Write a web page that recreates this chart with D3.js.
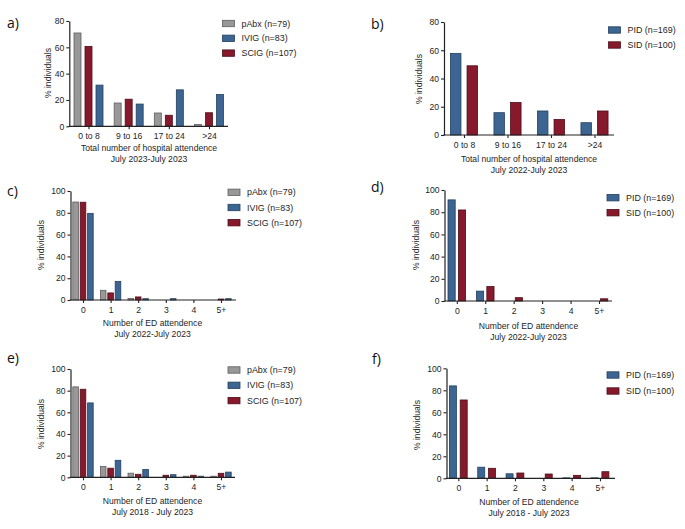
<!DOCTYPE html>
<html><head><meta charset="utf-8">
<script src="https://cdn.jsdelivr.net/npm/d3@7"></script>
<style>
body{margin:0;background:#fff;}
svg{display:block;font-family:"Liberation Sans",Arial,sans-serif;}
</style></head>
<body>
<svg id="chart" width="685" height="529"></svg>
<script>
// ---------- data ----------
const hospitalCats = ["0 to 8", "9 to 16", "17 to 24", ">24"];
const edCats = ["0", "1", "2", "3", "4", "5+"];
const yTicks80 = [0, 20, 40, 60, 80];
const yTicks100 = [0, 20, 40, 60, 80, 100];

// a) hospital attendance by treatment
const aPAbx = [70.9, 17.7, 10.1, 1.3];
const aSCIG = [60.7, 20.6, 8.4, 10.3];
const aIVIG = [31.3, 16.9, 27.7, 24.1];
// b) hospital attendance by diagnosis
const bPID = [57.8, 15.8, 17.0, 8.7];
const bSID = [49.0, 23.0, 11.0, 17.0];
// c) ED attendance 2022-2023 by treatment
const cPAbx = [89.9, 8.9, 1.3, 0, 0, 0];
const cSCIG = [89.7, 6.5, 2.8, 0, 0, 0.9];
const cIVIG = [79.5, 16.9, 1.2, 1.2, 0, 1.2];
// d) ED attendance 2022-2023 by diagnosis
const dPID = [91.1, 8.9, 0, 0, 0, 0];
const dSID = [82, 13, 3, 0, 0, 2];
// e) ED attendance 2018-2023 by treatment
const ePAbx = [83.5, 10.1, 3.8, 0, 1.0, 1.0];
const eSCIG = [81.3, 8.4, 2.8, 1.9, 1.9, 3.7];
const eIVIG = [68.7, 15.7, 7.2, 2.4, 1.0, 4.8];
// f) ED attendance 2018-2023 by diagnosis
const fPID = [84.0, 10.1, 4.1, 0, 0.4, 0.4];
const fSID = [71.2, 9.1, 4.8, 3.9, 2.7, 6.0];

const treatLegend = ["pAbx (n=79)", "IVIG (n=83)", "SCIG (n=107)"];
const diagLegend = ["PID (n=169)", "SID (n=100)"];

const COL = {
  grey: {fill: "#989898", stroke: "#5e5e5e"},
  blue: {fill: "#3c6592", stroke: "#23405f"},
  red:  {fill: "#86192c", stroke: "#4e0e18"}
};

const svg = d3.select("#chart");
const FS = 8.6;
const TXT = "#1e1e1e";

function panel(cfg) {
  const g = svg.append("g");
  const y = d3.scaleLinear().domain([0, cfg.ymax]).range([cfg.yBot, cfg.yTop]);
  const x = d3.scalePoint().domain(cfg.cats).range([cfg.x0, cfg.x1]);

  // bars
  cfg.series.forEach(s => {
    g.append("g").selectAll("rect").data(s.values).join("rect")
      .attr("x", (d, i) => x(cfg.cats[i]) + s.off - cfg.bw / 2)
      .attr("width", cfg.bw)
      .attr("y", d => y(d))
      .attr("height", d => y(0) - y(d))
      .attr("fill", COL[s.col].fill)
      .attr("stroke", COL[s.col].stroke)
      .attr("stroke-width", d => d > 0 ? 0.8 : 0);
  });

  // y axis
  const ya = g.append("g").attr("transform", `translate(${cfg.axX},0)`)
    .call(d3.axisLeft(y).tickValues(cfg.yticks).tickSize(3).tickSizeOuter(0).tickPadding(2));
  ya.select(".domain").attr("stroke", "#222").attr("stroke-width", 1.2);
  ya.selectAll(".tick line").attr("stroke", "#222").attr("stroke-width", 1.1);
  ya.selectAll("text").attr("font-size", FS).attr("fill", TXT).attr("font-family", "Liberation Sans, Arial, sans-serif");

  // x axis
  const xa = g.append("g").attr("transform", `translate(0,${cfg.yBot})`)
    .call(d3.axisBottom(x).tickSize(3).tickSizeOuter(0).tickPadding(4));
  xa.select(".domain").remove();
  xa.selectAll(".tick line").attr("stroke", "#222").attr("stroke-width", 1.1);
  xa.selectAll("text").attr("font-size", FS).attr("fill", TXT).attr("font-family", "Liberation Sans, Arial, sans-serif");
  g.append("line").attr("x1", cfg.axX - 0.6).attr("x2", cfg.x2)
    .attr("y1", cfg.yBot).attr("y2", cfg.yBot)
    .attr("stroke", "#222").attr("stroke-width", 1.2);

  // axis titles
  cfg.xTitle.forEach((t, i) => {
    g.append("text").attr("x", cfg.xtX).attr("y", cfg.xtY + i * 11.3)
      .attr("text-anchor", "middle").attr("font-size", FS).attr("fill", TXT).text(t);
  });
  g.append("text").attr("transform", `translate(${cfg.ytX},${cfg.ytY}) rotate(-90)`)
    .attr("text-anchor", "middle").attr("font-size", FS).attr("fill", TXT).text("% individuals");

  // panel label
  g.append("text").attr("x", cfg.lblX).attr("y", cfg.lblY)
    .attr("font-size", 14).attr("font-family", "Open Sans, sans-serif").attr("fill", "#111").text(cfg.label);

  // legend
  cfg.legend.forEach((l, i) => {
    const yy = cfg.lgY + i * cfg.lgStep;
    g.append("rect").attr("x", cfg.lgX).attr("y", yy - 3.2).attr("width", 12).attr("height", 6.4)
      .attr("fill", COL[l.col].fill).attr("stroke", COL[l.col].stroke).attr("stroke-width", 0.8);
    g.append("text").attr("x", cfg.lgX + 19).attr("y", yy + 3.1)
      .attr("font-size", 8.9).attr("fill", TXT).text(l.text);
  });
}

const treatSeries = (p, s, iv, bw, off) => [
  {values: p, col: "grey", off: -off},
  {values: s, col: "red", off: 0},
  {values: iv, col: "blue", off: off}
];
const diagSeries = (pid, sid, off) => [
  {values: pid, col: "blue", off: -off},
  {values: sid, col: "red", off: off}
];
const treatLeg = [
  {text: treatLegend[0], col: "grey"},
  {text: treatLegend[1], col: "blue"},
  {text: treatLegend[2], col: "red"}
];
const diagLeg = [
  {text: diagLegend[0], col: "blue"},
  {text: diagLegend[1], col: "red"}
];

panel({label: "a)", lblX: 7, lblY: 28, cats: hospitalCats, ymax: 80, yticks: yTicks80,
  axX: 69.3, x0: 88.5, x1: 209, x2: 228, yTop: 21, yBot: 126.3, bw: 7, 
  series: treatSeries(aPAbx, aSCIG, aIVIG, 7, 11),
  xTitle: ["Total number of hospital attendence", "July 2023-July 2023"], xtX: 149, xtY: 151,
  ytX: 50.5, ytY: 73, legend: treatLeg, lgX: 222.5, lgY: 23.5, lgStep: 14.8});

panel({label: "b)", lblX: 371, lblY: 29, cats: hospitalCats, ymax: 80, yticks: yTicks80,
  axX: 444, x0: 464, x1: 594.5, x2: 614, yTop: 22, yBot: 135, bw: 10.5,
  series: diagSeries(bPID, bSID, 8.3),
  xTitle: ["Total number of hospital attendence", "July 2022-July 2023"], xtX: 529, xtY: 162,
  ytX: 421.5, ytY: 79, legend: diagLeg, lgX: 608.5, lgY: 30, lgStep: 15});

panel({label: "c)", lblX: 7, lblY: 196, cats: edCats, ymax: 100, yticks: yTicks100,
  axX: 70.5, x0: 83, x1: 221, x2: 236, yTop: 191, yBot: 300, bw: 5.6,
  series: treatSeries(cPAbx, cSCIG, cIVIG, 5.6, 7.4),
  xTitle: ["Number of ED attendence", "July 2022-July 2023"], xtX: 152.5, xtY: 325.5,
  ytX: 44, ytY: 245, legend: treatLeg, lgX: 228, lgY: 192.3, lgStep: 15.2});

panel({label: "d)", lblX: 371, lblY: 192, cats: edCats, ymax: 100, yticks: yTicks100,
  axX: 444.5, x0: 456.8, x1: 599, x2: 612, yTop: 190, yBot: 301, bw: 7.2,
  series: diagSeries(dPID, dSID, 5.2),
  xTitle: ["Number of ED attendence", "July 2022-July 2023"], xtX: 528.5, xtY: 328.5,
  ytX: 418.5, ytY: 245, legend: diagLeg, lgX: 607, lgY: 197.7, lgStep: 15});

panel({label: "e)", lblX: 7, lblY: 363, cats: edCats, ymax: 100, yticks: yTicks100,
  axX: 70.5, x0: 83, x1: 221, x2: 235, yTop: 369, yBot: 477.3, bw: 5.6,
  series: treatSeries(ePAbx, eSCIG, eIVIG, 5.6, 7.4),
  xTitle: ["Number of ED attendence", "July 2018 - July 2023"], xtX: 152.5, xtY: 503.5,
  ytX: 44, ytY: 424, legend: treatLeg, lgX: 228, lgY: 370, lgStep: 15.3});

panel({label: "f)", lblX: 372, lblY: 364, cats: edCats, ymax: 100, yticks: yTicks100,
  axX: 446.5, x0: 458.3, x1: 600, x2: 615, yTop: 368.3, yBot: 478.3, bw: 7,
  series: diagSeries(fPID, fSID, 5.4),
  xTitle: ["Number of ED attendence", "July 2018 - July 2023"], xtX: 529, xtY: 505,
  ytX: 420, ytY: 425, legend: diagLeg, lgX: 607, lgY: 375, lgStep: 16});
</script>
</body></html>
